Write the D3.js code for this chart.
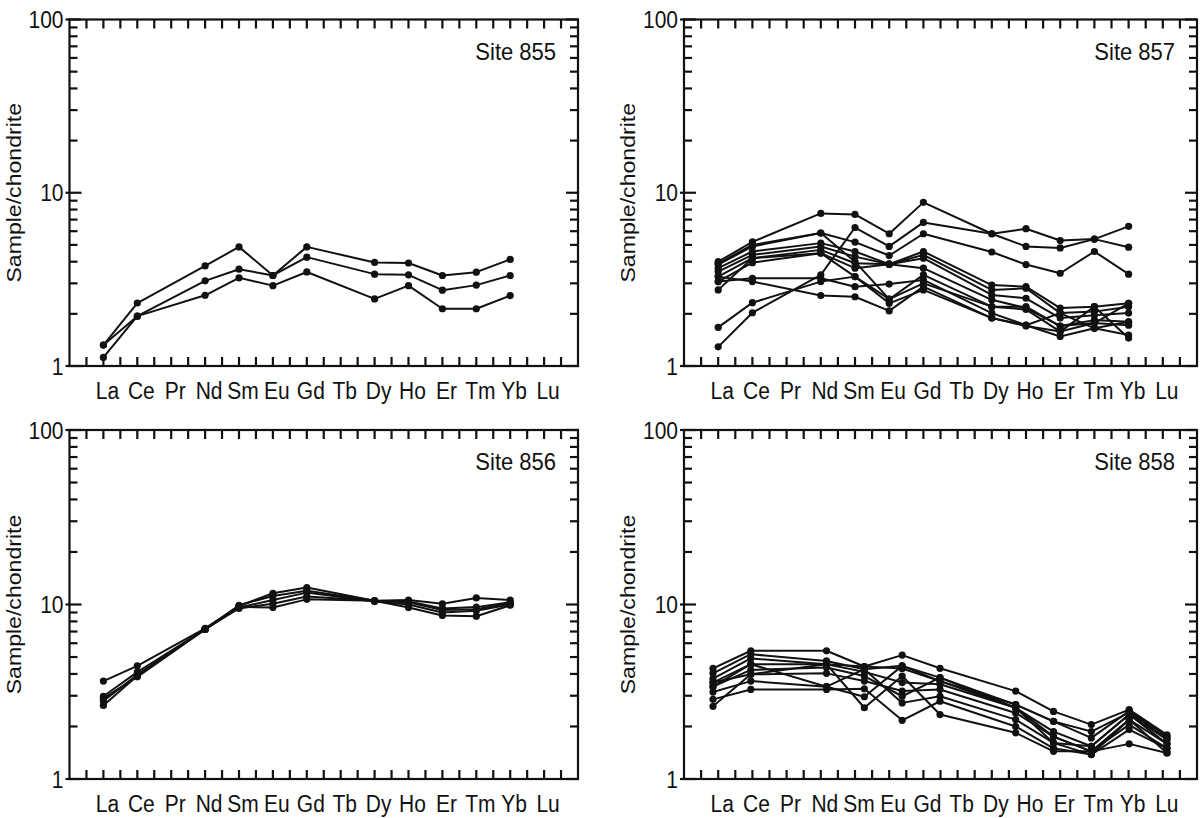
<!DOCTYPE html>
<html>
<head>
<meta charset="utf-8">
<script src="https://cdn.jsdelivr.net/npm/d3@7"></script>
<style>
  body { margin: 0; background: #fff; }
  svg { display: block; font-family: "Liberation Sans", Arial, Helvetica, sans-serif; }
</style>
</head>
<body>
<svg id="chart" width="1200" height="818"></svg>
<script>
// REE order on the x axis (position 1..14, frame spans 0..15)
const elements = ["La", "Ce", "Pr", "Nd", "Sm", "Eu", "Gd", "Tb", "Dy", "Ho", "Er", "Tm", "Yb", "Lu"];
// elements actually analysed (Pr, Tb, Lu missing)
const measured = ["La", "Ce", "Nd", "Sm", "Eu", "Gd", "Dy", "Ho", "Er", "Tm", "Yb"];
const majorTicks = [1, 10, 100];
const minorTicks = [2, 3, 4, 5, 6, 7, 8, 9, 20, 30, 40, 50, 60, 70, 80, 90];

// sample/chondrite, one row per sample, same order as `measured`
const site855 = [
  [1.32, 2.31, 3.78, 4.87, 3.33, 4.87, 3.96, 3.93, 3.33, 3.48, 4.12],
  [1.32, 1.94, 3.10, 3.62, 3.33, 4.25, 3.39, 3.36, 2.74, 2.93, 3.33],
  [1.12, 1.94, 2.56, 3.23, 2.91, 3.49, 2.44, 2.91, 2.14, 2.14, 2.55]
];

const site857 = [
  [4.00, 5.20, 7.60, 7.50, 5.80, 8.80, 5.80, 6.20, 5.30, 5.40, 4.85],
  [1.29, 2.03, 3.36, 6.30, 4.90, 6.74, 5.80, 4.90, 4.80, 5.40, 6.40],
  [3.85, 4.90, 5.85, 5.19, 4.34, 5.80, 4.55, 3.85, 3.43, 4.58, 3.39],
  [3.67, 4.58, 5.12, 4.58, 3.87, 4.58, 2.93, 2.87, 2.16, 2.20, 2.30],
  [3.51, 4.38, 4.90, 4.28, 3.87, 4.38, 2.75, 2.81, 2.02, 2.06, 2.20],
  [3.28, 4.19, 4.68, 3.92, 3.87, 4.19, 2.57, 2.46, 1.89, 1.96, 2.02],
  [3.07, 3.95, 4.48, 3.67, 3.87, 3.67, 2.41, 2.16, 1.70, 1.84, 1.80],
  [2.75, 4.19, 4.48, 3.28, 2.43, 3.36, 2.20, 2.12, 1.58, 1.77, 1.72],
  [3.07, 3.21, 3.21, 2.87, 2.97, 3.14, 2.02, 1.72, 1.48, 1.65, 1.51],
  [3.28, 3.07, 2.55, 2.51, 2.08, 2.87, 1.89, 1.70, 1.58, 2.20, 1.45],
  [1.67, 2.32, 3.07, 3.28, 2.30, 2.75, 1.89, 1.72, 2.02, 1.65, 1.80],
  [3.90, 5.00, 5.85, 4.00, 2.43, 3.00, 2.20, 2.20, 1.70, 1.77, 2.30]
];

const site856 = [
  [3.64, 4.45, 7.30, 9.80, 11.6, 12.5, 10.5, 10.6, 10.1, 10.9, 10.6],
  [2.98, 4.10, 7.20, 9.90, 11.2, 12.0, 10.5, 10.4, 9.50, 9.66, 10.3],
  [2.80, 3.95, 7.20, 9.60, 10.6, 11.7, 10.4, 10.0, 9.00, 9.20, 10.0],
  [2.64, 3.90, 7.25, 9.50, 10.1, 11.1, 10.5, 9.60, 8.64, 8.57, 9.90],
  [2.90, 3.85, 7.20, 9.70, 9.60, 10.7, 10.5, 10.3, 9.30, 9.40, 10.2]
];

const site858 = [
  [4.30, 5.43, 5.43, 4.41, 5.13, 4.31, 3.19, 2.44, 2.05, 2.50, 1.79],
  [4.03, 5.19, 4.75, 4.26, 4.45, 3.81, 2.67, 2.14, 1.72, 2.45, 1.75],
  [3.76, 4.91, 4.55, 4.41, 4.30, 3.64, 2.67, 2.14, 1.87, 2.40, 1.70],
  [3.57, 4.55, 4.55, 4.11, 3.57, 3.49, 2.56, 1.87, 1.54, 2.34, 1.68],
  [3.38, 4.22, 4.35, 3.89, 2.98, 3.81, 2.56, 1.75, 1.44, 2.19, 1.59],
  [3.57, 3.98, 4.03, 3.64, 3.19, 3.26, 2.39, 1.75, 1.44, 2.05, 1.50],
  [3.15, 3.64, 3.38, 4.26, 2.73, 2.98, 2.19, 1.61, 1.38, 2.19, 1.41],
  [2.86, 3.26, 3.26, 3.29, 2.17, 2.79, 2.00, 1.50, 1.38, 1.92, 1.50],
  [2.61, 3.98, 4.55, 2.56, 3.89, 2.34, 1.84, 1.44, 1.44, 1.59, 1.41],
  [3.38, 4.55, 3.38, 2.96, 4.45, 3.64, 2.56, 1.61, 1.54, 2.34, 1.59]
];

const ink = "#111";
const svg = d3.select("#chart");

// frame boxes; Site 858 data were plotted on a slightly wider element spacing
const panels = [
  { title: "Site 855", rows: site855, left: 69.5, right: 578, top: 19.5, bottom: 366 },
  { title: "Site 857", rows: site857, left: 684, right: 1197, top: 19.5, bottom: 366 },
  { title: "Site 856", rows: site856, left: 69.5, right: 578, top: 430, bottom: 779 },
  { title: "Site 858", rows: site858, left: 684, right: 1197, top: 430, bottom: 779, dataSpan: [713, 1167] }
];

function drawPanel(p) {
  const g = svg.append("g");
  const x = d3.scaleLinear().domain([0, 15]).range([p.left, p.right]);
  const y = d3.scaleLog().domain([1, 100]).range([p.bottom, p.top]);

  // x used for the sample lines (La=1 .. Yb=13)
  const xd = p.dataSpan
    ? d3.scaleLinear().domain([1, 13]).range(p.dataSpan)
    : x;
  const pos = (el) => elements.indexOf(el) + 1;

  // frame
  g.append("rect")
    .attr("x", p.left)
    .attr("y", p.top)
    .attr("width", p.right - p.left)
    .attr("height", p.bottom - p.top)
    .attr("fill", "none")
    .attr("stroke", ink)
    .attr("stroke-width", 2.2);

  const halfSteps = d3.range(0.5, 15, 0.5);
  const ticks = g.append("g").attr("stroke", ink).attr("stroke-width", 2.2);

  // inward ticks along bottom and top
  ticks.selectAll(".tb")
    .data(halfSteps)
    .enter()
    .append("line")
    .attr("x1", (d) => x(d)).attr("x2", (d) => x(d))
    .attr("y1", p.bottom).attr("y2", p.bottom - 9);
  ticks.selectAll(".tt")
    .data(halfSteps)
    .enter()
    .append("line")
    .attr("x1", (d) => x(d)).attr("x2", (d) => x(d))
    .attr("y1", p.top).attr("y2", p.top + 9);

  // log ticks on both sides, pointing in; majors also poke out on the left
  const yt = minorTicks.map((v) => ({ v, len: 8, out: 0 }))
    .concat(majorTicks.map((v) => ({ v, len: 12, out: 4 })));
  ticks.selectAll(".tl")
    .data(yt)
    .enter()
    .append("line")
    .attr("x1", (d) => p.left - d.out).attr("x2", (d) => p.left + d.len)
    .attr("y1", (d) => y(d.v)).attr("y2", (d) => y(d.v));
  ticks.selectAll(".tr")
    .data(yt)
    .enter()
    .append("line")
    .attr("x1", p.right).attr("x2", (d) => p.right - d.len)
    .attr("y1", (d) => y(d.v)).attr("y2", (d) => y(d.v));

  // tick labels
  g.selectAll(".yl")
    .data(majorTicks)
    .enter()
    .append("text")
    .attr("transform", (d) => `translate(${p.left - 6},${y(d)}) scale(1,1.15)`)
    .attr("dy", "0.36em")
    .attr("text-anchor", "end")
    .attr("fill", ink)
    .style("font-size", "21px")
    .text((d) => d);

  // element labels
  g.selectAll(".el")
    .data(elements)
    .enter()
    .append("text")
    .attr("transform", (d) => `translate(${x(pos(d)) + 4},${p.bottom + 33}) scale(1,1.15)`)
    .attr("text-anchor", "middle")
    .attr("fill", ink)
    .style("font-size", "21px")
    .text((d) => d);

  // axis title
  g.append("text")
    .attr("transform", `translate(${p.left - 49},${(p.top + p.bottom) / 2}) rotate(-90) scale(1.1,1)`)
    .attr("text-anchor", "middle")
    .attr("fill", ink)
    .style("font-size", "21px")
    .text("Sample/chondrite");

  // site label
  g.append("text")
    .attr("transform", `translate(${p.right - 22},${p.top + 40}) scale(1,1.08)`)
    .attr("text-anchor", "end")
    .attr("fill", ink)
    .style("font-size", "22px")
    .text(p.title);

  // sample patterns
  const line = d3
    .line()
    .x((d, i) => xd(pos(measured[i])))
    .y((d) => y(d));

  g.selectAll(".sample")
    .data(p.rows)
    .enter()
    .append("path")
    .attr("d", line)
    .attr("fill", "none")
    .attr("stroke", ink)
    .attr("stroke-width", 2)
    .attr("stroke-linejoin", "round");

  const pts = p.rows.flatMap((r) => r.map((v, i) => ({ el: measured[i], v })));
  g.selectAll(".pt")
    .data(pts)
    .enter()
    .append("circle")
    .attr("cx", (d) => xd(pos(d.el)))
    .attr("cy", (d) => y(d.v))
    .attr("r", 3.6)
    .attr("fill", ink);
}

panels.forEach(drawPanel);
</script>
</body>
</html>
